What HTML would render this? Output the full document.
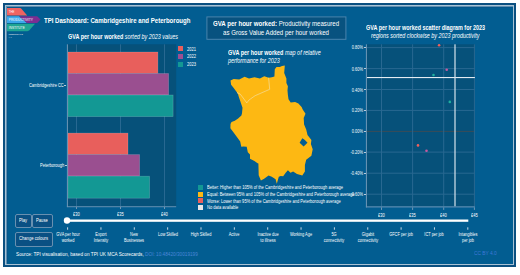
<!DOCTYPE html>
<html><head><meta charset="utf-8">
<style>
html,body{margin:0;padding:0;width:520px;height:275px;overflow:hidden;background:#fff;}
body{position:relative;font-family:"Liberation Sans",sans-serif;color:#fff;}
.a{position:absolute;}
.t{position:absolute;white-space:nowrap;transform-origin:0 50%;line-height:1;}
.frame{position:absolute;left:3px;top:3px;width:513px;height:264px;box-sizing:border-box;border:2px solid #0b4f80;background:#025d91;}
.frame2{position:absolute;left:5px;top:5px;width:509px;height:260px;box-sizing:border-box;border:1px solid #a9c2d4;}
.plot{position:absolute;background:#07507b;}
.gl{position:absolute;background:#286891;}
.btn{position:absolute;box-sizing:border-box;border:1px solid #6890b0;border-radius:2px;background:#0a5083;}
</style></head><body>
<div class="frame"></div>
<div class="frame2"></div>
<div class="a" style="left:6px;top:6px;width:507px;height:258px;box-sizing:border-box;border-style:solid;border-color:#5f8fb2;border-width:1px 0 0 1px"></div>
<div class="a" style="left:7px;top:7px;width:505px;height:256px;box-sizing:border-box;border-style:solid;border-color:#05568a;border-width:1px 0 0 1px"></div>

<!-- logo -->
<svg class="a" style="left:0;top:0" width="60" height="45" viewBox="0 0 60 45">
  <path d="M7 8 H19.5 C20.5 8 21 8.3 21.6 9 L27.2 15.4 H7 Z" fill="#ef6361"/>
  <path d="M7 16.2 H19 L27 22.9 H7 Z" fill="#3da8ea"/>
  <path d="M19 16.2 H37.2 L40.6 19.6 L37.2 22.9 H27 Z" fill="#7b2e92"/>
  <path d="M19 16.2 L27 22.9 H21 L14 16.2 Z" fill="#7e79c8" opacity="0.0"/>
  <path d="M7 23.8 H35 L29.6 30.1 C28.9 30.9 28.4 31.2 27.2 31.2 H7 Z" fill="#1fa593"/>
  <text x="8.8" y="12.9" font-size="3.6" fill="#fff" fill-opacity="1" font-family="Liberation Sans" textLength="5.6" lengthAdjust="spacingAndGlyphs">THE</text>
  <text x="8.8" y="21.2" font-size="3.6" fill="#fff" fill-opacity="1" font-family="Liberation Sans" textLength="24" lengthAdjust="spacingAndGlyphs">PRODUCTIVITY</text>
  <text x="8.8" y="28.6" font-size="3.6" fill="#fff" fill-opacity="1" font-family="Liberation Sans" textLength="16" lengthAdjust="spacingAndGlyphs">INSTITUTE</text>
  <text x="8.7" y="35.3" font-size="1.9" fill="#e0e8f0" font-family="Liberation Sans" font-weight="bold" textLength="14" lengthAdjust="spacingAndGlyphs">PRODUCTIVITY LAB</text>
  <text x="8.7" y="38.4" font-size="1.6" fill="#9fb8cc" font-family="Liberation Sans" textLength="3" lengthAdjust="spacingAndGlyphs">LAB</text>
</svg>

<!-- title -->
<div class="t" style="left:44px;top:17.1px;font-size:7.5px;font-weight:bold;transform:scaleX(0.808)">TPI Dashboard: Cambridgeshire and Peterborough</div>

<!-- bar chart -->
<div class="t" style="left:68px;top:34px;font-size:6.8px;transform:scaleX(0.8)"><b>GVA per hour worked</b> <i>sorted by 2023 values</i></div>
<svg class="a" style="left:0;top:0" width="520" height="275">
<rect x="67" y="44.3" width="109.2" height="162.2" fill="#06517a"/>
<rect x="76" y="44.3" width="1" height="162.2" fill="#286891"/>
<rect x="120" y="44.3" width="1" height="162.2" fill="#286891"/>
<rect x="164" y="44.3" width="1" height="162.2" fill="#286891"/>
<rect x="67.9" y="52" width="90" height="21.4" fill="#e85f5c" stroke="#ffffff" stroke-opacity="0.22" stroke-width="0.7"/>
<rect x="67.9" y="73.5" width="100.7" height="21.4" fill="#9a4f90" stroke="#ffffff" stroke-opacity="0.22" stroke-width="0.7"/>
<rect x="67.9" y="95" width="105.2" height="21.6" fill="#139894" stroke="#ffffff" stroke-opacity="0.22" stroke-width="0.7"/>
<rect x="67.9" y="133.1" width="60.1" height="21.4" fill="#e85f5c" stroke="#ffffff" stroke-opacity="0.22" stroke-width="0.7"/>
<rect x="67.9" y="154.6" width="71.7" height="21.4" fill="#9a4f90" stroke="#ffffff" stroke-opacity="0.22" stroke-width="0.7"/>
<rect x="67.9" y="176.2" width="81.7" height="22" fill="#139894" stroke="#ffffff" stroke-opacity="0.22" stroke-width="0.7"/>
<rect x="66.9" y="44.3" width="1" height="162.8" fill="#6f97b6"/>
<rect x="66.9" y="206.3" width="109.3" height="0.9" fill="#6f97b6"/>
<rect x="76" y="207" width="1" height="2" fill="#6f97b6"/>
<rect x="120" y="207" width="1" height="2" fill="#6f97b6"/>
<rect x="164" y="207" width="1" height="2" fill="#6f97b6"/>
</svg>
<div class="a" style="left:64px;top:85px;width:2px;height:1px;background:#b8cddd"></div>
<div class="a" style="left:64.5px;top:165px;width:2px;height:1px;background:#b8cddd"></div>
<div class="t" style="left:28.9px;top:82.5px;font-size:5px;transform:scaleX(0.79)">Cambridgeshire CC</div>
<div class="t" style="left:40.2px;top:163px;font-size:5px;transform:scaleX(0.8)">Peterborough</div>
<div class="t" style="left:72.6px;top:211.9px;font-size:5.2px;transform:scaleX(0.78)">£30</div>
<div class="t" style="left:116.6px;top:211.9px;font-size:5.2px;transform:scaleX(0.78)">£35</div>
<div class="t" style="left:160.6px;top:211.9px;font-size:5.2px;transform:scaleX(0.78)">£40</div>
<!-- legend -->
<div class="a" style="left:178.2px;top:45.9px;width:4.5px;height:5px;background:#e85f5c"></div>
<div class="a" style="left:178.2px;top:53.7px;width:4.5px;height:5px;background:#9d4f92"></div>
<div class="a" style="left:178.2px;top:61.5px;width:4.5px;height:5px;background:#139894"></div>
<div class="t" style="left:187.2px;top:46.6px;font-size:5.3px;transform:scaleX(0.76)">2021</div>
<div class="t" style="left:187.2px;top:54.2px;font-size:5.3px;transform:scaleX(0.76)">2022</div>
<div class="t" style="left:187.2px;top:61.8px;font-size:5.3px;transform:scaleX(0.76)">2023</div>

<!-- info box -->
<svg class="a" style="left:0;top:0" width="520" height="275"><rect x="206.9" y="16.9" width="139" height="22.4" fill="#08527f" stroke="#4a84ad" stroke-width="1"/></svg>
<div class="t" style="left:212.9px;top:20.8px;font-size:6.6px;transform:scaleX(0.925)"><b>GVA per hour worked:</b> Productivity measured</div>
<div class="t" style="left:223.2px;top:29.8px;font-size:6.6px;transform:scaleX(0.925)">as Gross Value Added per hour worked</div>

<!-- map title -->
<div class="t" style="left:227.5px;top:49.7px;font-size:6.6px;transform:scaleX(0.827)"><b>GVA per hour worked</b> <i>map of relative</i></div>
<div class="t" style="left:227.5px;top:58.4px;font-size:6.6px;transform:scaleX(0.82)"><i>performance for 2023</i></div>

<!-- map -->
<svg class="a" style="left:0;top:0" width="520" height="275" viewBox="0 0 520 275">
<path fill="#fdb813" d="M230.5 80.5 L233.7 79 L239.2 79.5 L244.6 76.8 L249 78.4 L254.5 77.3 L259.9 78.4 L264.3 76.2 L268.6 77.7 L271.9 77.3 L274.4 76.4 L274.8 69.2 L276.5 67 L279.8 67 L282 66.1 L284.8 65.5 L284.2 73.1 L286.4 78.5 L286.4 82.9 L287.9 86.2 L287.5 90.5 L287.9 94.9 L288.5 99.3 L290.7 102.5 L295.1 101.9 L298.4 103.6 L301.6 106.9 L302.7 109.5 L305.5 113.7 L303.7 117.9 L304.1 124.4 L306.2 129.6 L307.5 134.9 L311.4 140.1 L310.9 144 L312.7 149.3 L311.4 155.8 L306.2 159.7 L304.9 165 L304.9 171.5 L302.3 175.4 L297 174.1 L293.1 171.5 L290.5 172.8 L287.9 170.2 L285.5 173 L283.2 176.2 L280.7 176.1 L278.8 176.8 L276.8 183.8 L275.6 179.3 L271.8 176.8 L268.6 175.5 L264.1 178.7 L260.9 180.6 L258.7 175.2 L258.4 163.5 L257.6 163.2 L254.4 161 L250 158.8 L250 154.5 L247.8 152.3 L246.7 146.8 L243.5 146.4 L241.3 146.8 L240.2 141.4 L236.9 137 L233.6 132.6 L230.4 128.3 L230.5 124 L231.5 121.9 L234.8 120.8 L238.1 118.6 L241.4 115.4 L242 113.2 L242.5 107.7 L241.4 104.5 L240.3 101.2 L239 97.5 L238.1 94.6 L237 92.5 L233.7 88.1 L231.1 84.8 Z"/>
<path fill="#025d91" d="M299.6 142.7 L302.3 138.3 L304.9 140.1 L307.5 142.7 L303.6 146.6 Z"/>
<path fill="none" stroke="#f3e3b0" stroke-width="0.6" d="M237 92.5 L240.3 94.2 L246.8 102.9 L249 100 L255.1 95.7 L269.7 89.3 L268.6 77.7"/>
</svg>

<!-- map legend -->
<div class="a" style="left:198px;top:184.5px;width:5px;height:5px;background:#139894"></div>
<div class="a" style="left:198px;top:191.5px;width:5px;height:5px;background:#fdb813"></div>
<div class="a" style="left:198px;top:198px;width:5px;height:5px;background:#e85f5c"></div>
<div class="a" style="left:198px;top:204.5px;width:5px;height:5px;background:#e8e8e8"></div>
<div class="t" style="left:207px;top:186px;font-size:4.9px;transform:scaleX(0.83)">Better: Higher than 105% of the Cambridgeshire and Peterborough average</div>
<div class="t" style="left:207px;top:192.8px;font-size:4.9px;transform:scaleX(0.83)">Equal: Between 95% and 105% of the Cambridgeshire and Peterborough average</div>
<div class="t" style="left:207px;top:199.5px;font-size:4.9px;transform:scaleX(0.83)">Worse: Lower than 95% of the Cambridgeshire and Peterborough average</div>
<div class="t" style="left:207px;top:206px;font-size:4.9px;transform:scaleX(0.83)">No data available</div>

<!-- scatter -->
<div class="t" style="left:366px;top:23.6px;font-size:7px;font-weight:bold;transform:scaleX(0.773)">GVA per hour worked scatter diagram for 2023</div>
<div class="t" style="left:371px;top:33.15px;font-size:6.9px;font-style:italic;transform:scaleX(0.784)">regions sorted clockwise by 2023 productivity</div>
<svg class="a" style="left:0;top:0" width="520" height="275">
<rect x="366.9" y="44.3" width="108" height="162.1" fill="#06517a"/>
<rect x="366.9" y="47.1" width="108" height="1" fill="#286891"/>
<rect x="366.9" y="68.1" width="108" height="1" fill="#286891"/>
<rect x="366.9" y="89.0" width="108" height="1" fill="#286891"/>
<rect x="366.9" y="109.9" width="108" height="1" fill="#286891"/>
<rect x="366.9" y="151.6" width="108" height="1" fill="#286891"/>
<rect x="366.9" y="172.7" width="108" height="1" fill="#286891"/>
<rect x="366.9" y="193.7" width="108" height="1" fill="#286891"/>
<rect x="366.9" y="130.9" width="108" height="1" fill="#3a4c58"/>
<rect x="381.0" y="44.3" width="1" height="162.1" fill="#286891"/>
<rect x="412.1" y="44.3" width="1" height="162.1" fill="#286891"/>
<rect x="443.2" y="44.3" width="1" height="162.1" fill="#286891"/>
<rect x="473.9" y="44.3" width="1" height="162.1" fill="#286891"/>
<rect x="366.9" y="77" width="108" height="1.1" fill="#e3ecf2"/>
<rect x="454.4" y="44.3" width="1.2" height="162.1" fill="#d5e2eb"/>
<rect x="365.9" y="44.3" width="1" height="163.1" fill="#6f97b6"/>
<rect x="365.9" y="206.4" width="109" height="1" fill="#6f97b6"/>
<rect x="381.0" y="207.4" width="1" height="2.5" fill="#6f97b6"/>
<rect x="412.1" y="207.4" width="1" height="2.5" fill="#6f97b6"/>
<rect x="443.2" y="207.4" width="1" height="2.5" fill="#6f97b6"/>
<rect x="473.9" y="207.4" width="1" height="2.5" fill="#6f97b6"/>
<circle cx="439.1" cy="45.3" r="1.3" fill="#f0605d"/>
<circle cx="446.7" cy="69.8" r="1.3" fill="#c45aa0"/>
<circle cx="433.5" cy="75.0" r="1.3" fill="#1fb09f"/>
<circle cx="449.8" cy="101.9" r="1.3" fill="#1fb09f"/>
<circle cx="418.0" cy="145.4" r="1.3" fill="#f0605d"/>
<circle cx="426.5" cy="150.8" r="1.3" fill="#c45aa0"/>
</svg>
<div class="t" style="left:345px;top:46px;width:18px;text-align:right;font-size:4.8px;transform-origin:100% 50%;transform:scaleX(0.82);">0.80%</div>
<div class="t" style="left:345px;top:67.5px;width:18px;text-align:right;font-size:4.8px;transform-origin:100% 50%;transform:scaleX(0.82);">0.60%</div>
<div class="t" style="left:345px;top:88.5px;width:18px;text-align:right;font-size:4.8px;transform-origin:100% 50%;transform:scaleX(0.82);">0.40%</div>
<div class="t" style="left:345px;top:109px;width:18px;text-align:right;font-size:4.8px;transform-origin:100% 50%;transform:scaleX(0.82);">0.20%</div>
<div class="t" style="left:345px;top:130.2px;width:18px;text-align:right;font-size:4.8px;transform-origin:100% 50%;transform:scaleX(0.82);">0.00%</div>
<div class="t" style="left:345px;top:151px;width:18px;text-align:right;font-size:4.8px;transform-origin:100% 50%;transform:scaleX(0.82);">-0.20%</div>
<div class="t" style="left:345px;top:172px;width:18px;text-align:right;font-size:4.8px;transform-origin:100% 50%;transform:scaleX(0.82);">-0.40%</div>
<div class="t" style="left:345px;top:193px;width:18px;text-align:right;font-size:4.8px;transform-origin:100% 50%;transform:scaleX(0.82);">-0.60%</div>
<div class="t" style="left:378.2px;top:213.4px;font-size:5.2px;transform:scaleX(0.78)">£30</div>
<div class="t" style="left:409.3px;top:213.4px;font-size:5.2px;transform:scaleX(0.78)">£35</div>
<div class="t" style="left:440.4px;top:213.4px;font-size:5.2px;transform:scaleX(0.78)">£40</div>
<div class="t" style="left:471.1px;top:213.4px;font-size:5.2px;transform:scaleX(0.78)">£45</div>

<div class="a" style="left:364px;top:47px;width:1.8px;height:1px;background:#b8cddd"></div>
<div class="a" style="left:364px;top:68px;width:1.8px;height:1px;background:#b8cddd"></div>
<div class="a" style="left:364px;top:89px;width:1.8px;height:1px;background:#b8cddd"></div>
<div class="a" style="left:364px;top:110px;width:1.8px;height:1px;background:#b8cddd"></div>
<div class="a" style="left:364px;top:131px;width:1.8px;height:1px;background:#b8cddd"></div>
<div class="a" style="left:364px;top:152px;width:1.8px;height:1px;background:#b8cddd"></div>
<div class="a" style="left:364px;top:173px;width:1.8px;height:1px;background:#b8cddd"></div>
<div class="a" style="left:364px;top:194px;width:1.8px;height:1px;background:#b8cddd"></div>
<!-- buttons -->
<div class="btn" style="left:15px;top:214px;width:17px;height:14px"></div>
<div class="btn" style="left:32px;top:214px;width:21px;height:14px"></div>
<div class="btn" style="left:15px;top:232px;width:38px;height:14.6px"></div>
<div class="t" style="left:19px;top:218.3px;font-size:5.2px;transform:scaleX(0.8)">Play</div>
<div class="t" style="left:36.2px;top:218.3px;font-size:5.2px;transform:scaleX(0.8)">Pause</div>
<div class="t" style="left:19px;top:236.2px;font-size:5.2px;transform:scaleX(0.8)">Change colours</div>

<!-- slider -->
<svg class="a" style="left:0;top:0" width="520" height="275"><rect x="67" y="219.5" width="401.3" height="2.3" fill="#fff"/><circle cx="67" cy="220.5" r="3.2" fill="#fff"/></svg>
<!-- slider labels -->
<svg class="a" style="left:0;top:0" width="520" height="275">
<rect x="67.10" y="227.3" width="1" height="2.4" fill="#c9d8e4"/>
<rect x="100.45" y="227.3" width="1" height="2.4" fill="#c9d8e4"/>
<rect x="133.80" y="227.3" width="1" height="2.4" fill="#c9d8e4"/>
<rect x="167.15" y="227.3" width="1" height="2.4" fill="#c9d8e4"/>
<rect x="200.50" y="227.3" width="1" height="2.4" fill="#c9d8e4"/>
<rect x="233.85" y="227.3" width="1" height="2.4" fill="#c9d8e4"/>
<rect x="267.20" y="227.3" width="1" height="2.4" fill="#c9d8e4"/>
<rect x="300.55" y="227.3" width="1" height="2.4" fill="#c9d8e4"/>
<rect x="333.90" y="227.3" width="1" height="2.4" fill="#c9d8e4"/>
<rect x="367.25" y="227.3" width="1" height="2.4" fill="#c9d8e4"/>
<rect x="400.60" y="227.3" width="1" height="2.4" fill="#c9d8e4"/>
<rect x="433.95" y="227.3" width="1" height="2.4" fill="#c9d8e4"/>
<rect x="467.30" y="227.3" width="1" height="2.4" fill="#c9d8e4"/>
</svg>
<div class="t" style="left:47.60px;top:231.85px;width:40px;text-align:center;font-size:5.3px;transform-origin:50% 50%;transform:scaleX(0.74)">GVA per hour</div>
<div class="t" style="left:47.60px;top:238.15px;width:40px;text-align:center;font-size:5.3px;transform-origin:50% 50%;transform:scaleX(0.74)">worked</div>
<div class="t" style="left:80.95px;top:231.85px;width:40px;text-align:center;font-size:5.3px;transform-origin:50% 50%;transform:scaleX(0.74)">Export</div>
<div class="t" style="left:80.95px;top:238.15px;width:40px;text-align:center;font-size:5.3px;transform-origin:50% 50%;transform:scaleX(0.74)">Intensity</div>
<div class="t" style="left:114.30px;top:231.85px;width:40px;text-align:center;font-size:5.3px;transform-origin:50% 50%;transform:scaleX(0.74)">New</div>
<div class="t" style="left:114.30px;top:238.15px;width:40px;text-align:center;font-size:5.3px;transform-origin:50% 50%;transform:scaleX(0.74)">Businesses</div>
<div class="t" style="left:147.65px;top:231.85px;width:40px;text-align:center;font-size:5.3px;transform-origin:50% 50%;transform:scaleX(0.74)">Low Skilled</div>
<div class="t" style="left:181.00px;top:231.85px;width:40px;text-align:center;font-size:5.3px;transform-origin:50% 50%;transform:scaleX(0.74)">High Skilled</div>
<div class="t" style="left:214.35px;top:231.85px;width:40px;text-align:center;font-size:5.3px;transform-origin:50% 50%;transform:scaleX(0.74)">Active</div>
<div class="t" style="left:247.70px;top:231.85px;width:40px;text-align:center;font-size:5.3px;transform-origin:50% 50%;transform:scaleX(0.74)">Inactive due</div>
<div class="t" style="left:247.70px;top:238.15px;width:40px;text-align:center;font-size:5.3px;transform-origin:50% 50%;transform:scaleX(0.74)">to illness</div>
<div class="t" style="left:281.05px;top:231.85px;width:40px;text-align:center;font-size:5.3px;transform-origin:50% 50%;transform:scaleX(0.74)">Working Age</div>
<div class="t" style="left:314.40px;top:231.85px;width:40px;text-align:center;font-size:5.3px;transform-origin:50% 50%;transform:scaleX(0.74)">5G</div>
<div class="t" style="left:314.40px;top:238.15px;width:40px;text-align:center;font-size:5.3px;transform-origin:50% 50%;transform:scaleX(0.74)">connectivity</div>
<div class="t" style="left:347.75px;top:231.85px;width:40px;text-align:center;font-size:5.3px;transform-origin:50% 50%;transform:scaleX(0.74)">Gigabit</div>
<div class="t" style="left:347.75px;top:238.15px;width:40px;text-align:center;font-size:5.3px;transform-origin:50% 50%;transform:scaleX(0.74)">connectivity</div>
<div class="t" style="left:381.10px;top:231.85px;width:40px;text-align:center;font-size:5.3px;transform-origin:50% 50%;transform:scaleX(0.74)">GFCF per job</div>
<div class="t" style="left:414.45px;top:231.85px;width:40px;text-align:center;font-size:5.3px;transform-origin:50% 50%;transform:scaleX(0.74)">ICT per job</div>
<div class="t" style="left:447.80px;top:231.85px;width:40px;text-align:center;font-size:5.3px;transform-origin:50% 50%;transform:scaleX(0.74)">Intangibles</div>
<div class="t" style="left:447.80px;top:238.15px;width:40px;text-align:center;font-size:5.3px;transform-origin:50% 50%;transform:scaleX(0.74)">per job</div>
<div class="t" style="left:15.5px;top:250.6px;font-size:6px;transform:scaleX(0.783)">Source: TPI visualisation, based on TPI UK MCA Scorecards, <span style="color:#4a86d8">DOI: 10.48420/30019199</span></div>
<div class="t" style="left:474px;top:250.4px;font-size:6px;color:#3f78d8;transform:scaleX(0.80)">CC BY 4.0</div>
</body></html>
